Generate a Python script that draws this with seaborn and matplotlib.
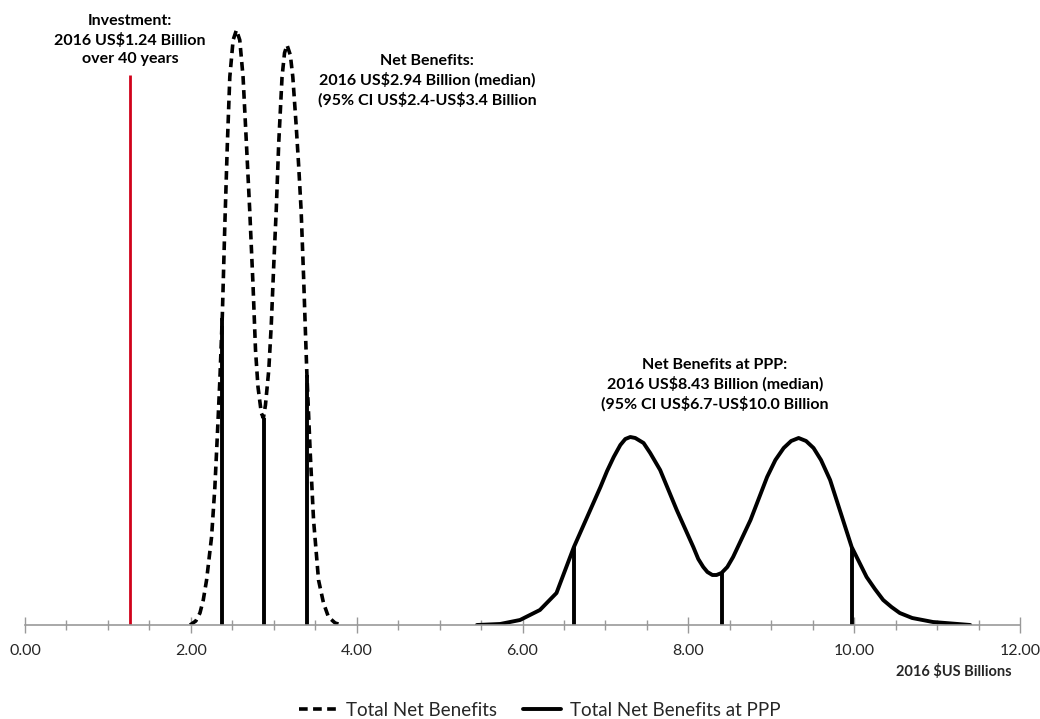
import matplotlib
matplotlib.use("Agg")
import matplotlib.pyplot as plt
import seaborn as sns
import pandas as pd
from matplotlib.ticker import MultipleLocator, FormatStrFormatter

# ---- data (x in 2016 US$ billions, y in relative density units) ----
nb_x = [1.99, 2.06, 2.11, 2.15, 2.19, 2.25, 2.29, 2.32, 2.35, 2.38, 2.41, 2.44, 2.47, 2.51,
        2.55, 2.59, 2.63, 2.67, 2.71, 2.75, 2.78, 2.81, 2.85, 2.875, 2.90, 2.94, 2.97, 3.00,
        3.03, 3.06, 3.10, 3.13, 3.16, 3.20, 3.23, 3.27, 3.30, 3.33, 3.36, 3.38, 3.40, 3.44,
        3.48, 3.54, 3.60, 3.66, 3.74, 3.82]
nb_y = [0, 4, 12, 25, 45, 88, 138, 190, 245, 310, 400, 480, 548, 585,
        595, 585, 548, 482, 415, 340, 275, 238, 212, 207, 220, 255, 300, 360,
        415, 482, 548, 572, 580, 570, 548, 500, 460, 415, 348, 298, 250, 172,
        105, 45, 22, 8, 2, 0]

ppp_x = [5.45, 5.73, 5.97, 6.21, 6.41, 6.62, 6.78, 6.94, 7.02, 7.10, 7.18, 7.24, 7.30,
         7.36, 7.46, 7.54, 7.66, 7.86, 8.06, 8.12, 8.18, 8.23, 8.29, 8.34, 8.40, 8.47,
         8.54, 8.75, 8.95, 9.05, 9.15, 9.24, 9.33, 9.42, 9.51, 9.60, 9.71, 9.97, 10.15,
         10.25, 10.35, 10.45, 10.55, 10.70, 10.95, 11.40]
ppp_y = [0, 1, 5, 15, 32, 78, 108, 138, 154, 168, 180, 186, 188,
         187, 182, 172, 155, 115, 78, 66, 58, 53, 50, 50, 52, 58,
         68, 105, 148, 165, 177, 184, 187, 184, 177, 165, 145, 78, 48,
         36, 25, 18, 12, 7, 3, 0]

nb_marks_x = [2.38, 2.88, 3.40]
nb_marks_y = [307, 207, 250]
ppp_marks_x = [6.62, 8.40, 9.97]
ppp_marks_y = [78, 52, 78]

investment_x = 1.27
investment_y = 550

series_labels = ["Total Net Benefits", "Total Net Benefits at PPP"]
x_label = "2016 $US Billions"
ann_investment = "Investment:\n2016 US$1.24 Billion\nover 40 years"
ann_nb = "Net Benefits:\n2016 US$2.94 Billion (median)\n(95% CI US$2.4-US$3.4 Billion"
ann_ppp = "Net Benefits at PPP:\n2016 US$8.43 Billion (median)\n(95% CI US$6.7-US$10.0 Billion"

# ---- figure ----
sns.set_theme(style="white")
plt.rcParams["font.family"] = ["Lato", "DejaVu Sans"]
plt.rcParams["text.parse_math"] = False

fig = plt.figure(figsize=(10.4, 7.19), dpi=100)
ax = fig.add_axes([25 / 1040, 1 - 625 / 719, 995 / 1040, 620 / 719])

df_nb = pd.DataFrame({"x": nb_x, "y": nb_y})
df_ppp = pd.DataFrame({"x": ppp_x, "y": ppp_y})

sns.lineplot(data=df_nb, x="x", y="y", ax=ax, color="black", lw=2.6,
             linestyle=(0, (2.4, 1.5)), label=series_labels[0], sort=False)
sns.lineplot(data=df_ppp, x="x", y="y", ax=ax, color="black", lw=2.8,
             label=series_labels[1], sort=False)
for ln in ax.lines:
    ln.set_solid_joinstyle("round")
    ln.set_dash_joinstyle("round")

ax.vlines(nb_marks_x, 0, nb_marks_y, color="black", lw=2.8)
ax.vlines(ppp_marks_x, 0, ppp_marks_y, color="black", lw=2.8)
ax.vlines([investment_x], 0, [investment_y], color="#d0021b", lw=2.0)

ax.set_xlim(0, 12)
ax.set_ylim(0, 620)
ax.set_yticks([])
ax.set_xlabel("")
ax.set_ylabel("")
for s in ["top", "right", "left"]:
    ax.spines[s].set_visible(False)
ax.spines["bottom"].set_color("#999999")
ax.spines["bottom"].set_linewidth(1.2)

ax.xaxis.set_major_locator(MultipleLocator(2))
ax.xaxis.set_minor_locator(MultipleLocator(0.5))
ax.xaxis.set_major_formatter(FormatStrFormatter("%.2f"))
ax.tick_params(axis="x", which="major", direction="inout", length=12, width=1.0,
               color="#999999", labelsize=11.5, pad=8, bottom=True)
ax.tick_params(axis="x", which="minor", direction="inout", length=7, width=1.0,
               color="#999999", bottom=True)
for lab in ax.get_xticklabels():
    lab.set_fontfamily(["Liberation Sans Narrow", "Lato", "DejaVu Sans"])

fig.text(1012 / 1040, 1 - 672 / 719, x_label, ha="right", va="center",
         fontsize=10.5, fontweight="bold", family=["Liberation Sans Narrow", "Lato", "DejaVu Sans"])

ann_kw = dict(ha="center", va="center", fontsize=11.5, fontweight="bold",
              linespacing=1.35, color="black")
fig.text(130 / 1040, 1 - 40 / 719, ann_investment, **ann_kw)
fig.text(427 / 1040, 1 - 81 / 719, ann_nb, **ann_kw)
fig.text(715 / 1040, 1 - 385 / 719, ann_ppp, **ann_kw)

leg = ax.legend(loc="center", bbox_to_anchor=(540 / 1040, 1 - 710 / 719), bbox_transform=fig.transFigure,
                ncol=2, frameon=False, fontsize=13.5, handlelength=2.0, columnspacing=1.4,
                handletextpad=0.5)

fig.savefig("out.png", dpi=100)
